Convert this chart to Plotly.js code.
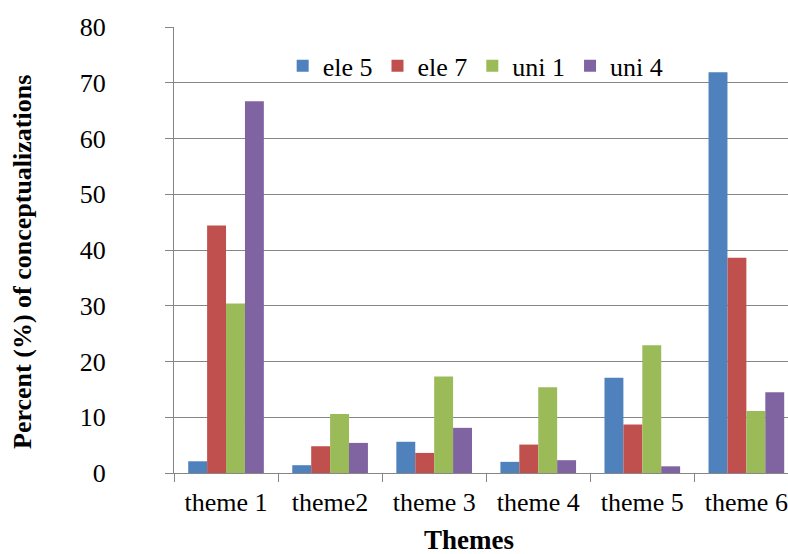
<!DOCTYPE html>
<html>
<head>
<meta charset="utf-8">
<script src="https://cdn.plot.ly/plotly-3.0.1.min.js"></script>
<style>html,body{margin:0;padding:0;background:#fff;}#chart{width:788px;height:554px;}</style>
</head>
<body>
<div id="chart"></div>
<script>
var categories = ["theme 1", "theme2", "theme 3", "theme 4", "theme 5", "theme 6"];
var seriesNames = ["ele 5", "ele 7", "uni 1", "uni 4"];
var ele5 = [2.1, 1.4, 5.6, 2.0, 17.1, 71.9];
var ele7 = [44.4, 4.8, 3.6, 5.1, 8.7, 38.6];
var uni1 = [30.4, 10.6, 17.3, 15.4, 22.9, 11.1];
var uni4 = [66.7, 5.4, 8.1, 2.3, 1.2, 14.5];
var colors = ["#4F81BD", "#C0504D", "#9BBB59", "#8064A2"];
var yTicks = [0, 10, 20, 30, 40, 50, 60, 70, 80];

var values = [ele5, ele7, uni1, uni4];
var traces = values.map(function (v, i) {
  return {
    type: "bar",
    name: seriesNames[i],
    x: categories,
    y: v,
    marker: { color: colors[i], line: { width: 0 } }
  };
});

var font = "Liberation Serif";
var fs = 26;
var layout = {
  width: 788,
  height: 554,
  margin: { l: 174, r: 0, t: 27, b: 81 },
  paper_bgcolor: "#ffffff",
  plot_bgcolor: "#ffffff",
  font: { family: font, size: fs, color: "#000000" },
  barmode: "group",
  bargap: 0.273,
  bargroupgap: 0,
  showlegend: true,
  legend: {
    orientation: "h",
    x: 0.177, xanchor: "left",
    y: 0.913, yanchor: "middle",
    font: { family: font, size: fs, color: "#000" },
    bgcolor: "rgba(0,0,0,0)",
    traceorder: "normal"
  },
  xaxis: {
    type: "category",
    range: [-0.5, 5.4],
    showgrid: false,
    showline: true,
    linecolor: "#868686",
    linewidth: 1,
    ticks: "outside",
    tickson: "boundaries",
    ticklen: 8,
    tickcolor: "#868686",
    ticklabelstandoff: 6,
    tickfont: { family: font, size: fs, color: "#000" },
    zeroline: false,
    fixedrange: true
  },
  yaxis: {
    range: [0, 80],
    tickvals: yTicks,
    ticktext: yTicks.map(String),
    showgrid: true,
    gridcolor: "#868686",
    gridwidth: 1,
    showline: true,
    linecolor: "#868686",
    linewidth: 1,
    ticks: "outside",
    ticklen: 8,
    tickcolor: "#868686",
    ticklabelstandoff: 54,
    tickfont: { family: font, size: fs, color: "#000" },
    zeroline: false,
    fixedrange: true
  },
  annotations: [
    {
      text: "<b>Themes</b>",
      xref: "paper", yref: "paper",
      x: (469 - 174) / 614, y: -(556 - 472.7) / 445.3,
      xanchor: "center", yanchor: "bottom",
      borderpad: 0,
      showarrow: false,
      font: { family: font, size: 27, color: "#000" }
    },
    {
      text: "<b>Percent (%) of conceptualizations</b>",
      xref: "paper", yref: "paper",
      x: -(174 - 23) / 614, y: (472.7 - 262) / 445.3,
      xanchor: "center", yanchor: "middle",
      textangle: -90,
      showarrow: false,
      font: { family: font, size: 26, color: "#000" }
    }
  ]
};

Plotly.newPlot("chart", traces, layout, { displayModeBar: false, staticPlot: true });
</script>
</body>
</html>
